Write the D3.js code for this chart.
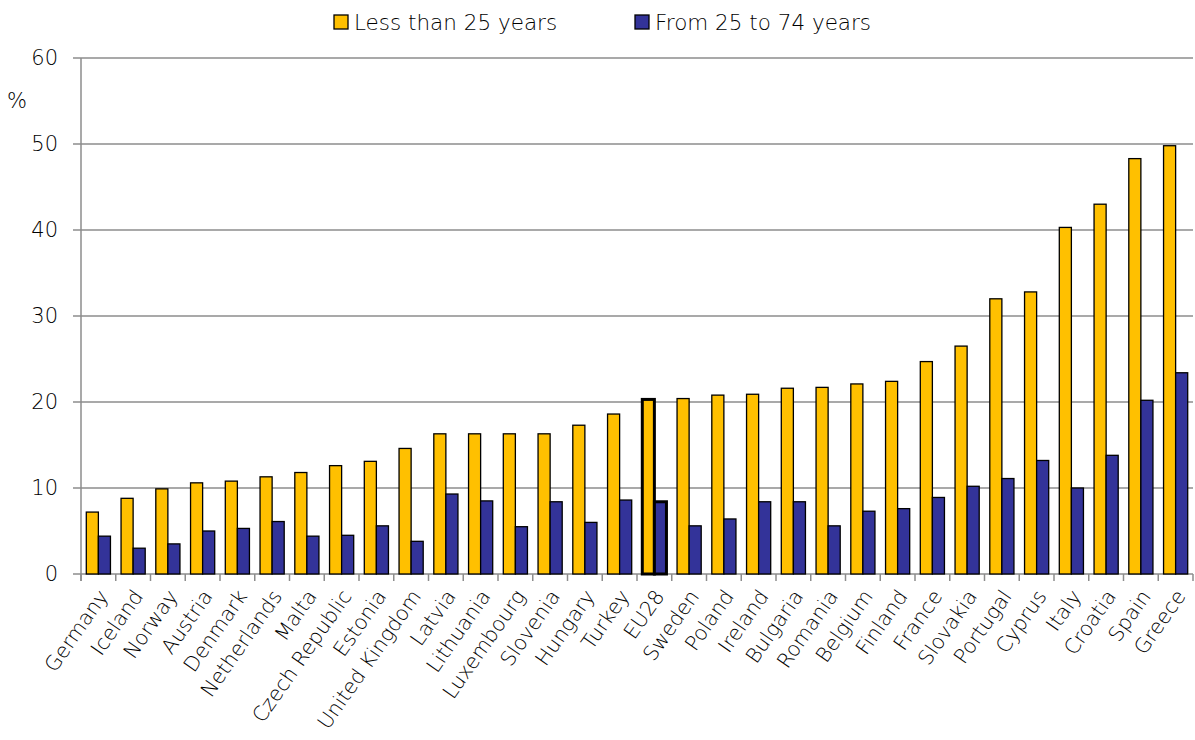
<!DOCTYPE html>
<html>
<head>
<meta charset="utf-8">
<script src="https://cdn.jsdelivr.net/npm/d3@7"></script>
<style>
  body { margin: 0; background: #fff; }
  svg text { font-family: "DejaVu Sans", sans-serif; font-weight: 200; fill: #000; }
</style>
</head>
<body>
<div class="svgContainer"></div>
<script>
// Data
var COUNTRIES = ["Germany", "Iceland", "Norway", "Austria", "Denmark", "Netherlands", "Malta", "Czech Republic",
    "Estonia", "United Kingdom", "Latvia", "Lithuania", "Luxembourg", "Slovenia", "Hungary", "Turkey", "EU28",
    "Sweden", "Poland", "Ireland", "Bulgaria", "Romania", "Belgium", "Finland", "France", "Slovakia", "Portugal",
    "Cyprus", "Italy", "Croatia", "Spain", "Greece"];
var UNDER25 = [7.2, 8.8, 9.9, 10.6, 10.8, 11.3, 11.8, 12.6, 13.1, 14.6, 16.3, 16.3, 16.3, 16.3, 17.3, 18.6, 20.3,
    20.4, 20.8, 20.9, 21.6, 21.7, 22.1, 22.4, 24.7, 26.5, 32.0, 32.8, 40.3, 43.0, 48.3, 49.8];
var FROM25TO74 = [4.4, 3.0, 3.5, 5.0, 5.3, 6.1, 4.4, 4.5, 5.6, 3.8, 9.3, 8.5, 5.5, 8.4, 6.0, 8.6, 8.4,
    5.6, 6.4, 8.4, 8.4, 5.6, 7.3, 7.6, 8.9, 10.2, 11.1, 13.2, 10.0, 13.8, 20.2, 23.4];
var SERIES = ["Less than 25 years", "From 25 to 74 years"];
var COLORS = ["#FFC000", "#333399"];
var Y_TICKS = [0, 10, 20, 30, 40, 50, 60];
var HIGHLIGHT = "EU28";

var W = 1195, H = 740;
var margin = {left: 81, right: 2, top: 58, bottom: 166},
    width = W - margin.left - margin.right,
    height = H - margin.top - margin.bottom;

var svg = d3.select(".svgContainer").append("svg")
    .attr("width", W)
    .attr("height", H);

var g = svg.append("g")
    .attr("transform", "translate(" + margin.left + "," + margin.top + ")");

var scaleX = d3.scaleBand()
    .domain(COUNTRIES)
    .range([0, width])
    .paddingInner(0.305)
    .paddingOuter(0.1525);

var scaleSeries = d3.scaleBand()
    .domain(SERIES)
    .range([0, scaleX.bandwidth()]);

var scaleY = d3.scaleLinear()
    .domain([0, 60])
    .range([height, 0]);

// gridlines
g.selectAll(".grid")
    .data(Y_TICKS)
    .enter().append("line")
    .attr("x1", -8).attr("x2", width)
    .attr("y1", function(d) { return scaleY(d); })
    .attr("y2", function(d) { return scaleY(d); })
    .attr("stroke", "#8c8c8c")
    .attr("stroke-width", 1.5);

// y axis labels
g.selectAll(".ylab")
    .data(Y_TICKS)
    .enter().append("text")
    .attr("x", -23)
    .attr("y", function(d) { return scaleY(d); })
    .attr("dy", "0.35em")
    .attr("text-anchor", "end")
    .style("font-size", "21px")
    .text(function(d) { return d; });

svg.append("text")
    .attr("x", 17).attr("y", 101)
    .attr("dy", "0.35em")
    .attr("text-anchor", "middle")
    .style("font-size", "21px")
    .text("%");

// left axis line
g.append("line")
    .attr("x1", 0).attr("x2", 0)
    .attr("y1", 0).attr("y2", height + 7)
    .attr("stroke", "#8c8c8c")
    .attr("stroke-width", 1.5);

// x tick marks at category boundaries
var step = scaleX.step();
g.selectAll(".xtick")
    .data(d3.range(COUNTRIES.length + 1))
    .enter().append("line")
    .attr("x1", function(i) { return i * step; })
    .attr("x2", function(i) { return i * step; })
    .attr("y1", height).attr("y2", height + 7)
    .attr("stroke", "#8c8c8c")
    .attr("stroke-width", 1.5);

// bars
var rows = COUNTRIES.map(function(c, i) {
    return {country: c, values: [UNDER25[i], FROM25TO74[i]]};
});

var groups = g.selectAll(".grp")
    .data(rows)
    .enter().append("g")
    .attr("transform", function(d) { return "translate(" + scaleX(d.country) + ",0)"; });

groups.selectAll("rect")
    .data(function(d) {
        return d.values.map(function(v, k) { return {key: SERIES[k], k: k, v: v, hl: d.country === HIGHLIGHT}; });
    })
    .enter().append("rect")
    .attr("x", function(d) { return scaleSeries(d.key); })
    .attr("width", scaleSeries.bandwidth())
    .attr("y", function(d) { return scaleY(d.v); })
    .attr("height", function(d) { return height - scaleY(d.v); })
    .attr("fill", function(d) { return COLORS[d.k]; })
    .attr("stroke", "#000")
    .attr("stroke-width", function(d) { return d.hl ? 3 : 1.3; });

// x labels, rotated
g.selectAll(".xlab")
    .data(COUNTRIES)
    .enter().append("text")
    .attr("transform", function(d) {
        return "translate(" + (scaleX(d) + scaleX.bandwidth() / 2 - 1) + "," + (height + 14) + ") rotate(-55)";
    })
    .attr("text-anchor", "end")
    .attr("dy", "0.7em")
    .style("font-size", "20.5px")
    .text(function(d) { return d; });

// legend
var legendX = [334, 635];
var legend = svg.selectAll(".legend")
    .data(SERIES)
    .enter().append("g")
    .attr("transform", function(d, i) { return "translate(" + legendX[i] + ",15)"; });

legend.append("rect")
    .attr("width", 14).attr("height", 14)
    .attr("fill", function(d, i) { return COLORS[i]; })
    .attr("stroke", "#000")
    .attr("stroke-width", 1.3);

legend.append("text")
    .attr("x", 20).attr("y", 7)
    .attr("dy", "0.35em")
    .style("font-size", "21.5px")
    .text(function(d) { return d; });
</script>
</body>
</html>
